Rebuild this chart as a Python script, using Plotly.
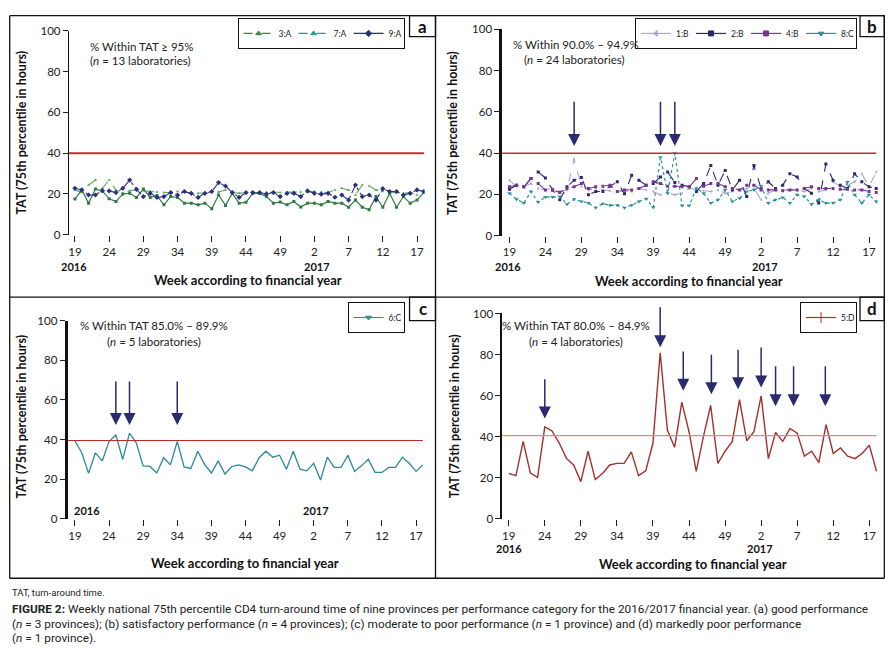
import plotly.graph_objects as go

# page body keeps its default 8px margin: the figure is sized to fit the window exactly
OFF = 8
W, H = 893 - 2 * OFF, 652 - 2 * OFF
def fx(p): return (p - OFF) / W
def fy(p): return 1 - (p - OFF) / H

# ---------------- data ----------------
weeks = [str(w) for w in list(range(19, 53)) + list(range(1, 19))]
tick_weeks = ["19", "24", "29", "34", "39", "44", "49", "2", "7", "12", "17"]

a_3A = [22.0, 20.7, 24.4, 26.8, 22.8, 26.8, 22.0, 20.3, 21.6, 22.0,
        21.6, 21.2, 21.0, 20.7, 20.7, 21.2, 20.8, 20.7, 20.3, 20.3,
        20.7, 21.0, 22.0, 20.7, 20.3, 20.7, 20.7, 20.7, 20.7, 21.0,
        20.7, 20.7, 21.0, 21.0, 21.0, 21.2, 21.0, 20.7, 22.0, 22.8,
        22.0, 19.5, 24.4, 23.9, 22.0, 21.2, 21.0, 20.7, 20.3, 20.7,
        19.5, 21.6]
a_7A = [17.5, 22.0, 15.5, 22.5, 21.5, 17.6, 16.3, 20.0, 20.3, 18.3,
        22.4, 18.3, 19.2, 14.7, 18.7, 18.3, 15.5, 15.5, 14.7, 15.5,
        12.7, 19.5, 14.4, 20.3, 15.5, 15.9, 20.3, 20.3, 18.7, 15.5,
        16.0, 14.7, 16.3, 13.6, 15.5, 15.5, 14.7, 16.3, 15.5, 15.5,
        13.5, 17.0, 13.5, 12.3, 18.7, 13.5, 20.3, 13.5, 18.7, 15.5,
        17.0, 20.8]
a_9A = [22.8, 22.0, 19.5, 19.5, 21.6, 21.5, 20.7, 22.8, 26.8, 22.3,
        18.7, 20.3, 18.3, 18.7, 20.7, 19.5, 21.2, 20.3, 18.3, 20.3,
        21.2, 25.6, 23.9, 20.7, 18.3, 20.7, 20.7, 20.7, 20.0, 20.7,
        18.7, 20.3, 20.3, 18.7, 21.5, 20.3, 19.9, 20.3, 18.4, 19.5,
        17.0, 24.4, 18.7, 19.5, 17.0, 22.6, 21.2, 21.2, 19.5, 20.3,
        22.0, 21.2]

b_1B = [26.9, 23.7, 23.7, 25.3, 22.9, 22.2, 22.9, 21.4, 22.2, 37.2,
        24.0, 22.2, 22.9, 22.2, 21.7, 21.4, 21.4, 21.4, 22.9, 22.2,
        21.4, 19.8, 20.9, 19.8, 20.6, 22.9, 22.2, 21.8, 21.4, 22.2,
        20.6, 21.4, 22.2, 22.9, 22.9, 17.4, 20.6, 22.2, 22.2, 22.2,
        22.2, 21.4, 22.9, 21.4, 22.2, 26.1, 24.0, 24.5, 26.1, 30.0,
        23.7, 30.9]
b_2B = [22.5, 24.5, 23.7, 27.7, 30.9, 28.0, 22.2, 17.4, 23.7, 26.9,
        28.2, 19.8, 21.4, 21.4, 24.0, 26.1, 20.3, 29.3, 26.9, 24.5,
        25.3, 28.5, 30.9, 25.8, 24.5, 23.7, 21.4, 25.3, 34.0, 24.5,
        31.6, 22.2, 26.9, 19.0, 34.0, 22.9, 26.1, 22.9, 24.5, 30.0,
        28.5, 22.9, 20.6, 15.8, 34.8, 26.9, 24.5, 22.9, 30.0, 26.1,
        23.7, 22.9]
b_4B = [23.7, 24.5, 23.7, 27.7, 25.3, 22.2, 22.2, 20.9, 22.9, 23.7,
        25.3, 22.9, 23.7, 24.0, 24.5, 21.4, 22.2, 22.2, 22.9, 24.5,
        26.1, 25.3, 24.0, 24.0, 23.7, 23.7, 27.7, 24.0, 25.3, 25.3,
        23.7, 22.9, 22.2, 24.5, 24.5, 22.2, 22.2, 22.2, 21.8, 22.2,
        22.2, 22.9, 23.7, 22.9, 22.9, 22.9, 22.5, 22.5, 22.2, 22.2,
        21.4, 20.9]
b_8C = [20.6, 17.7, 15.8, 21.4, 16.3, 18.7, 18.7, 19.0, 15.3, 17.7,
        16.6, 15.8, 13.6, 15.5, 14.7, 14.7, 13.6, 14.7, 16.6, 17.9,
        13.8, 38.0, 20.6, 40.0, 14.6, 14.6, 23.0, 20.6, 15.8, 17.4,
        22.2, 16.6, 18.2, 21.4, 22.2, 24.0, 15.8, 17.4, 18.5, 15.8,
        19.8, 19.0, 15.3, 17.4, 15.8, 15.8, 17.4, 26.0, 19.8, 15.8,
        19.8, 16.6]

c_6C = [39.4, 33.3, 22.9, 33.3, 29.2, 39.0, 42.3, 30.0, 43.2, 38.2,
        26.7, 26.4, 23.1, 30.8, 27.2, 39.0, 26.2, 25.4, 34.1, 27.5,
        23.1, 29.2, 22.6, 26.4, 27.2, 26.2, 24.2, 30.8, 34.1, 31.1,
        32.1, 25.0, 34.1, 25.0, 24.2, 28.0, 19.6, 31.1, 25.9, 25.9,
        32.0, 23.9, 26.7, 30.0, 23.4, 23.4, 25.9, 25.9, 31.1, 28.0,
        23.9, 27.2]

d_5D = [22.1, 21.0, 37.7, 22.3, 20.2, 44.8, 42.8, 36.9, 29.4, 26.2,
        18.1, 32.9, 19.1, 22.1, 26.2, 27.0, 27.0, 32.6, 21.0, 23.4,
        36.9, 80.9, 43.2, 34.8, 56.8, 42.4, 23.1, 40.1, 55.2, 27.0,
        32.9, 37.7, 58.0, 38.0, 42.4, 59.9, 29.3, 42.0, 37.7, 44.0,
        41.7, 30.5, 32.9, 27.3, 45.9, 31.8, 34.5, 30.5, 29.3, 31.8,
        35.8, 23.1]

target_tat = [40, 40, 39.5, 40.5]  # threshold per panel

# arrows: position (week index), tip value, tail value
arrow_b_pos = [9, 21, 23]
arrow_b_tip = [43.5, 43.5, 43.5]
arrow_b_tail = [65.7, 65.7, 65.7]
arrow_c_pos = [6, 8, 15]
arrow_c_tip = [47.3, 47.3, 47.3]
arrow_c_tail = [70, 70, 70]
arrow_d_pos = [5, 21, 24.2, 28.1, 31.8, 35, 37, 39.5, 43.9]
arrow_d_tip = [48.8, 83.5, 62.3, 60.7, 63.1, 63.9, 54.8, 54.8, 54.8]
arrow_d_tail = [68.7, 103.7, 82.2, 80.6, 83.0, 84.1, 75.0, 75.0, 75.0]

x_idx = list(range(len(weeks)))
tick_idx = [weeks.index(t) if i < 7 else 34 + int(t) - 1 for i, t in enumerate(tick_weeks)]

FONT = "Lato"
NAVY = "#2b2a6e"

fig = go.Figure()

# panel geometry in window pixels: (x_left, x_right, y_top, y_bottom, idx0_px, step_px)
geo = {
    1: (68, 424, 24.3, 232.3, 74.0, 6.85),
    2: (501.7, 878, 22.7, 233.3, 509.0, 7.2),
    3: (66.7, 425, 320, 522.3, 74.0, 6.83),
    4: (501.7, 879, 312.7, 522.3, 508.3, 7.22),
}
axis_line_w = {1: 1.2, 2: 2.5, 3: 3, 4: 1.5}

layout = dict(width=W, height=H, margin=dict(l=0, r=0, t=0, b=0),
              paper_bgcolor="white", plot_bgcolor="white",
              font=dict(family=FONT, size=12, color="#222"), showlegend=True)

for k, (xl, xr, yt, yb, i0, st) in geo.items():
    sfx = "" if k == 1 else str(k)
    layout["xaxis" + sfx] = dict(
        domain=[fx(xl), fx(xr)], range=[(xl - i0) / st, (xr - i0) / st],
        anchor="y" + sfx, tickmode="array", tickvals=tick_idx, ticktext=tick_weeks,
        ticks="outside", ticklen=6, tickwidth=1, tickcolor="#222", showline=False,
        showgrid=False, zeroline=False, tickfont=dict(size=11.5, color="#222"))
    layout["yaxis" + sfx] = dict(
        domain=[fy(yb), fy(yt)], range=[0, 100], dtick=20, anchor="x" + sfx,
        ticks="outside", ticklen=5, tickcolor="#222", showline=True,
        linecolor="#111", linewidth=axis_line_w[k], showgrid=False, zeroline=False,
        tickfont=dict(size=11.5, color="#222"))

def add(y, k, name, color, dash, width, symbol=None, msize=4):
    sfx = "" if k == 1 else str(k)
    fig.add_trace(go.Scatter(
        x=x_idx, y=y, name=name, mode="lines+markers" if symbol else "lines",
        line=dict(color=color, dash=dash, width=width),
        marker=dict(symbol=symbol or "circle", size=msize, color=color),
        xaxis="x" + sfx, yaxis="y" + sfx, showlegend=False))

def add_leg(k, name, color, dash, symbol, msize=5):
    sfx = "" if k == 1 else str(k)
    fig.add_trace(go.Scatter(
        x=[None], y=[None], name=name, mode="lines+markers",
        line=dict(color=color, dash=dash, width=1.2),
        marker=dict(symbol=symbol, size=msize, color=color,
                    line=dict(color=color, width=1)),
        xaxis="x" + sfx, yaxis="y" + sfx,
        legend="legend" if k == 1 else "legend" + str(k)))

# panel a
add(a_3A, 1, "3:A", "#5aa85a", "dash", 1.1, "triangle-up", 3)
add(a_7A, 1, "7:A", "#2f7a45", "solid", 1.2, "square", 3)
add(a_9A, 1, "9:A", "#2d2f80", "dashdot", 1.1, "diamond", 4)
add_leg(1, "3:A", "#2f8a45", "dash", "triangle-up")
add_leg(1, "7:A", "#2a9a8a", "dash", "triangle-up")
add_leg(1, "9:A", "#2d2f80", "solid", "diamond")

# panel b
add(b_1B, 2, "1:B", "#aaa6d8", "dash", 1.1, "triangle-left", 3)
add(b_2B, 2, "2:B", "#2b2a6e", "dash", 1.1, "square", 3)
add(b_4B, 2, "4:B", "#7a3390", "dash", 1.1, "square", 3)
add(b_8C, 2, "8:C", "#2a8f9f", "dot", 1.2, "triangle-down", 4)
add_leg(2, "1:B", "#aaa6d8", "solid", "triangle-left")
add_leg(2, "2:B", "#2b2a6e", "solid", "square")
add_leg(2, "4:B", "#7a3390", "solid", "square")
add_leg(2, "8:C", "#2a8f9f", "solid", "triangle-down")

# panel c
add(c_6C, 3, "6:C", "#2a8a9a", "solid", 1.3)
add_leg(3, "6:C", "#2a8a9a", "solid", "triangle-down")

# panel d
add(d_5D, 4, "5:D", "#a3302c", "solid", 1.4)
add_leg(4, "5:D", "#a3302c", "solid", "cross-thin-open", 8)

# legends (anchored at their right edge)
leg_pos = {1: (404, 11), 2: (857, 11), 3: (404, 301), 4: (857, 301)}
for k, (lx, ly) in leg_pos.items():
    key = "legend" if k == 1 else "legend" + str(k)
    layout[key] = dict(x=fx(lx), y=fy(ly), xanchor="right", yanchor="top",
                       orientation="h", bordercolor="#111", borderwidth=1,
                       bgcolor="white", font=dict(size=8.5, color="#222"),
                       itemwidth=30, tracegroupgap=0,
                       entrywidth=10, entrywidthmode="pixels")

fig.update_layout(**layout)

shapes = []
line_cols = {1: ("#c0302a", 2), 2: ("#c0302a", 1.5), 3: ("#b52a2a", 1.2), 4: ("#e08c70", 1.3)}
for k in geo:
    sfx = "" if k == 1 else str(k)
    col, wd = line_cols[k]
    xl, xr, yt, yb, i0, st = geo[k]
    shapes.append(dict(type="line", xref="x" + sfx, yref="y" + sfx,
                       x0=(xl - i0) / st, x1=51, y0=target_tat[k - 1], y1=target_tat[k - 1],
                       line=dict(color=col, width=wd)))

# frame lines (outer edges kept just inside the figure)
TOP, LEFT, RIGHT, BOT = 8.7, 8.7, 884.3, 583
frame = [(LEFT, TOP, RIGHT, TOP), (LEFT, 296, RIGHT, 296), (LEFT, BOT, RIGHT, BOT),
         (LEFT, TOP, LEFT, BOT), (435, TOP, 435, BOT), (RIGHT, TOP, RIGHT, BOT)]
for x0, y0, x1, y1 in frame:
    shapes.append(dict(type="line", xref="paper", yref="paper",
                       x0=fx(x0), x1=fx(x1), y0=fy(y0), y1=fy(y1),
                       line=dict(color="#111", width=1.3)))
letter_boxes = [("a", 409, TOP, 435, 30), ("b", 860, TOP, RIGHT, 30),
                ("c", 409, 296, 435, 320), ("d", 860, 296, RIGHT, 320)]
for _, x0, y0, x1, y1 in letter_boxes:
    shapes.append(dict(type="rect", xref="paper", yref="paper",
                       x0=fx(x0), x1=fx(x1), y0=fy(y1), y1=fy(y0),
                       line=dict(color="#111", width=1.3)))
fig.update_layout(shapes=shapes)

ann = []
def text(x, y, s, size=12, xanchor="center", color="#222", angle=0, fam=FONT):
    ann.append(dict(x=fx(x), y=fy(y), xref="paper", yref="paper", text=s,
                    showarrow=False, xanchor=xanchor, yanchor="middle", textangle=angle,
                    font=dict(size=size, color=color, family=fam)))

for lab, x0, y0, x1, y1 in letter_boxes:
    text((x0 + x1) / 2, (y0 + y1) / 2, "<b>%s</b>" % lab, size=17, color="#111")

# axis titles
for (xc, yc) in [(21, 128), (452, 128), (21, 418), (454, 417)]:
    text(xc, yc, "<b>TAT (75th percentile in hours)</b>", size=12.5, angle=-90, color="#111")
for (xc, yc) in [(247, 279), (689, 280), (244.5, 567), (692.5, 568)]:
    text(xc, yc, "<b>Week according to financial year</b>", size=13, color="#111")
# year labels
for (xc, yc, s) in [(73, 265, "2016"), (316, 265, "2017"), (508, 265, "2016"), (765, 265, "2017"),
                    (86, 514, "2016"), (315, 514, "2017"), (509, 553, "2016"), (759.5, 553, "2017")]:
    text(xc, yc, "<b>%s</b>" % s, size=11, color="#111")

# panel notes
text(87, 40, "% Within TAT ≥ 95%", size=11.5, xanchor="left")
text(87, 54, "(<i>n</i> = 13 laboratories)", size=11.5, xanchor="left")
text(576, 38, "% Within 90.0% – 94.9%", size=11.5)
text(574, 53, "(<i>n</i> = 24 laboratories)", size=11.5)
text(153, 325, "% Within TAT 85.0% – 89.9%", size=11.5)
text(153, 341, "(<i>n</i> = 5 laboratories)", size=11.5)
text(576, 325, "% Within TAT 80.0% – 84.9%", size=11.5)
text(576, 341, "(<i>n</i> = 4 laboratories)", size=11.5)

# arrows
for k, pos, tip, tail in [(2, arrow_b_pos, arrow_b_tip, arrow_b_tail),
                          (3, arrow_c_pos, arrow_c_tip, arrow_c_tail),
                          (4, arrow_d_pos, arrow_d_tip, arrow_d_tail)]:
    sfx = str(k)
    for p, t, tl in zip(pos, tip, tail):
        ann.append(dict(x=p, y=t, ax=p, ay=tl, xref="x" + sfx, yref="y" + sfx,
                        axref="x" + sfx, ayref="y" + sfx, showarrow=True, text="",
                        arrowhead=2, arrowsize=1.6, arrowwidth=1.5, arrowcolor=NAVY,
                        standoff=0))

# captions
CAP = "Roboto"
text(9, 598, "TAT, turn-around time.", size=9.5, xanchor="left", fam=CAP)
text(9, 614, "<b>FIGURE 2:</b> Weekly national 75th percentile CD4 turn-around time of nine provinces per performance category for the 2016/2017 financial year. (a) good performance",
     size=11.8, xanchor="left", fam=CAP)
text(9, 630, "(<i>n</i> = 3 provinces); (b) satisfactory performance (<i>n</i> = 4 provinces); (c) moderate to poor performance (<i>n</i> = 1 province) and (d) markedly poor performance",
     size=11.8, xanchor="left", fam=CAP)
text(9, 644, "(<i>n</i> = 1 province).", size=11.8, xanchor="left", fam=CAP)

fig.update_layout(annotations=ann)
fig.write_html("out.html", config={"displayModeBar": False})
